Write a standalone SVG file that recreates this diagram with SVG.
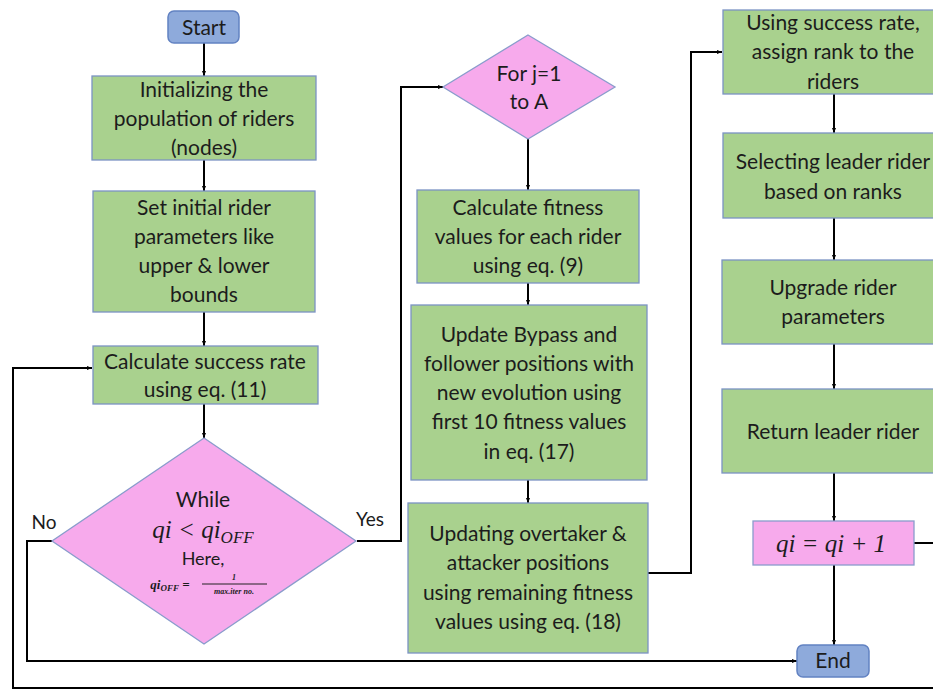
<svg xmlns="http://www.w3.org/2000/svg" width="933" height="690" viewBox="0 0 933 690">
<defs>
<marker id="ah" viewBox="0 0 10 10" refX="10" refY="5" markerWidth="5" markerHeight="5" orient="auto" markerUnits="userSpaceOnUse">
<path d="M0,1 L10,5 L0,9 z" fill="#000"/>
</marker>
<style>
.box{fill:#a9d18e;stroke:#7b93c4;stroke-width:1.3}
.pink{fill:#f7aaec;stroke:#8a9ccc;stroke-width:1.3}
.term{fill:#8eaadb;stroke:#6282c2;stroke-width:1.5}
.t{font-family:Lato,"Open Sans",sans-serif;font-size:21px;fill:#1c1c1c;text-anchor:middle}
.m{font-family:"Liberation Serif","DejaVu Serif",serif;font-style:italic;fill:#1c1c1c;text-anchor:middle}
.c{fill:none;stroke:#000;stroke-width:2}
.ca{fill:none;stroke:#000;stroke-width:2;marker-end:url(#ah)}
</style>
</defs>
<rect width="933" height="690" fill="#fff"/>
<g id="connectors">
<path class="ca" d="M204,43 V76"/>
<path class="ca" d="M204,160 V191"/>
<path class="ca" d="M204,312 V346"/>
<path class="ca" d="M204,404 V438"/>
<path class="ca" d="M52,541 H27 V661 H797"/>
<path class="ca" d="M357,541 H401 V87 H443"/>
<path class="ca" d="M528,139 V190"/>
<path class="ca" d="M528,283 V305"/>
<path class="ca" d="M528,480 V503"/>
<path class="ca" d="M648,573 H691 V52 H722"/>
<path class="ca" d="M834,94 V133"/>
<path class="ca" d="M834,218 V260"/>
<path class="ca" d="M834,344 V389"/>
<path class="ca" d="M834,473 V521"/>
<path class="ca" d="M834,565 V645"/>
<path class="ca" d="M914,543 H945 V688 H13 V368 H92"/>
</g>
<g id="start">
<rect class="term" x="168" y="11" width="71" height="32" rx="6"/>
<text class="t" x="204" y="35">Start</text>
</g>
<g id="init">
<rect class="box" x="92" y="76" width="224" height="84"/>
<text class="t" x="204" y="97">Initializing the</text>
<text class="t" x="204" y="126">population of riders</text>
<text class="t" x="204" y="155">(nodes)</text>
</g>
<g id="params">
<rect class="box" x="93" y="191" width="222" height="121"/>
<text class="t" x="204" y="215">Set initial rider</text>
<text class="t" x="204" y="244">parameters like</text>
<text class="t" x="204" y="273">upper &amp; lower</text>
<text class="t" x="204" y="302">bounds</text>
</g>
<g id="success">
<rect class="box" x="93" y="346" width="225" height="58"/>
<text class="t" x="205" y="369">Calculate success rate</text>
<text class="t" x="205" y="397">using eq. (11)</text>
</g>
<g id="while">
<polygon class="pink" points="204,438 356,541 204,644 52,541"/>
<text class="t" x="203" y="507">While</text>
<text class="m" x="203" y="538" style="font-size:25px">qi &lt; qi<tspan style="font-size:17px" dy="5">OFF</tspan></text>
<text class="t" x="203" y="565" style="font-size:18px">Here,</text>
<text class="m" x="170" y="589" style="font-size:13px;font-weight:bold">qi<tspan style="font-size:9px" dy="2">OFF</tspan><tspan dy="-2"> =</tspan></text>
<text class="m" x="234" y="580" style="font-size:8px;font-weight:bold">1</text>
<line x1="202" y1="584" x2="267" y2="584" stroke="#222" stroke-width="1"/>
<text class="m" x="234" y="594" style="font-size:8px;font-weight:bold">max.iter no.</text>
</g>
<g id="labels">
<text class="t" x="44" y="529" style="font-size:19px">No</text>
<text class="t" x="370" y="526" style="font-size:19px">Yes</text>
</g>
<g id="forloop">
<polygon class="pink" points="528,35 615,87 528,139 443,87"/>
<text class="t" x="529" y="81">For j=1</text>
<text class="t" x="529" y="109">to A</text>
</g>
<g id="fitness">
<rect class="box" x="417" y="190" width="222" height="93"/>
<text class="t" x="528" y="215">Calculate fitness</text>
<text class="t" x="528" y="244">values for each rider</text>
<text class="t" x="528" y="273">using eq. (9)</text>
</g>
<g id="bypass">
<rect class="box" x="411" y="305" width="236" height="175"/>
<text class="t" x="529" y="342">Update Bypass and</text>
<text class="t" x="529" y="371">follower positions with</text>
<text class="t" x="529" y="400">new evolution using</text>
<text class="t" x="529" y="429">first 10 fitness values</text>
<text class="t" x="529" y="459">in eq. (17)</text>
</g>
<g id="overtaker">
<rect class="box" x="408" y="503" width="240" height="150"/>
<text class="t" x="528" y="541">Updating overtaker &amp;</text>
<text class="t" x="528" y="570">attacker positions</text>
<text class="t" x="528" y="600">using remaining fitness</text>
<text class="t" x="528" y="629">values using eq. (18)</text>
</g>
<g id="rank">
<rect class="box" x="723" y="10" width="222" height="84"/>
<text class="t" x="833" y="30">Using success rate,</text>
<text class="t" x="833" y="59">assign rank to the</text>
<text class="t" x="833" y="89">riders</text>
</g>
<g id="leader">
<rect class="box" x="723" y="133" width="222" height="85"/>
<text class="t" x="833" y="169">Selecting leader rider</text>
<text class="t" x="833" y="199">based on ranks</text>
</g>
<g id="upgrade">
<rect class="box" x="722" y="260" width="222" height="84"/>
<text class="t" x="833" y="295">Upgrade rider</text>
<text class="t" x="833" y="324">parameters</text>
</g>
<g id="return">
<rect class="box" x="722" y="389" width="222" height="84"/>
<text class="t" x="833" y="439">Return leader rider</text>
</g>
<g id="increment">
<rect class="pink" x="753" y="521" width="161" height="44"/>
<text class="m" x="831" y="552" style="font-size:25px">qi = qi + 1</text>
</g>
<g id="end">
<rect class="term" x="797" y="645" width="72" height="32" rx="6"/>
<text class="t" x="833" y="668">End</text>
</g>
</svg>
